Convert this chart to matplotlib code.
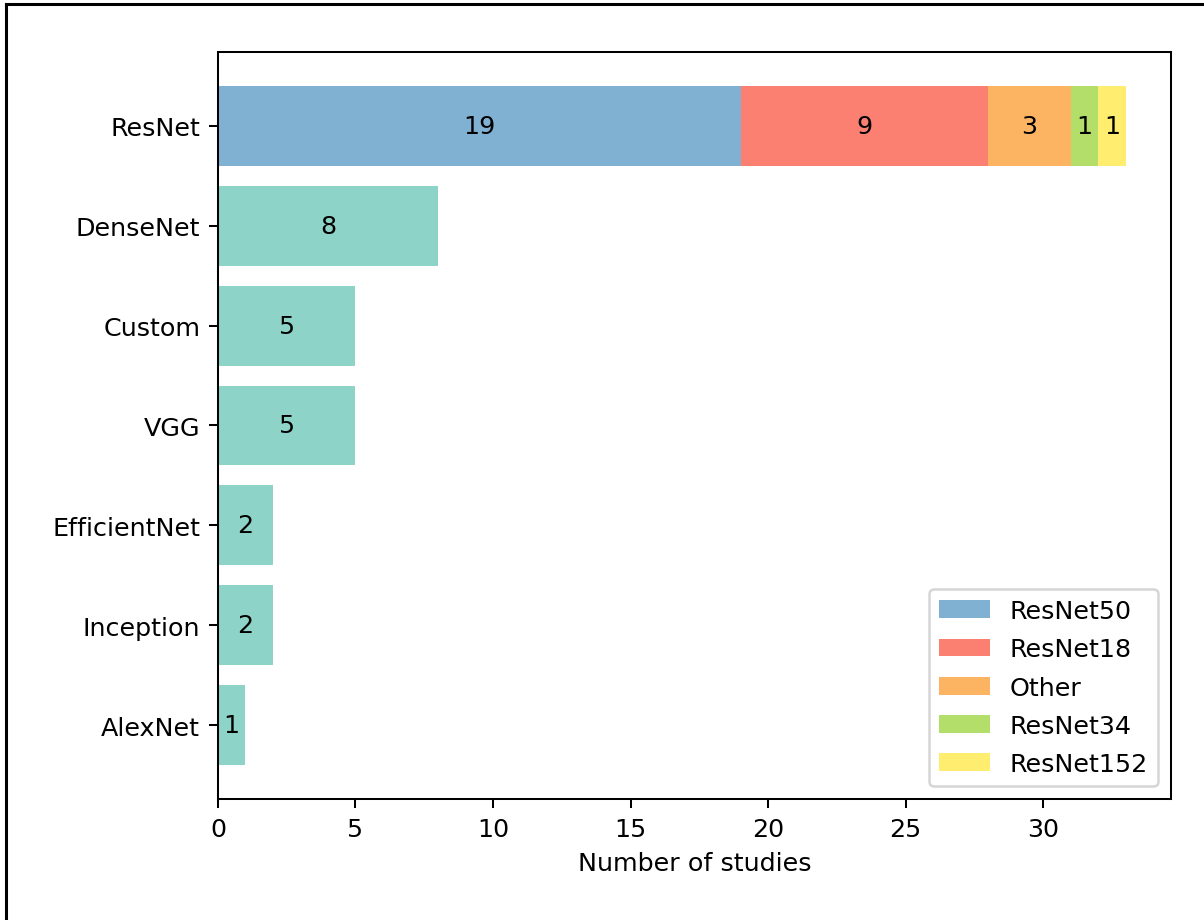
import matplotlib.pyplot as plt
from matplotlib.lines import Line2D

# data
models = ["ResNet", "DenseNet", "Custom", "VGG", "EfficientNet", "Inception", "AlexNet"]
counts = [33, 8, 5, 5, 2, 2, 1]

resnet_variants = ["ResNet50", "ResNet18", "Other", "ResNet34", "ResNet152"]
resnet_counts = [19, 9, 3, 1, 1]
variant_colors = ["#80b1d3", "#fb8072", "#fdb462", "#b3de69", "#ffed6f"]
base_color = "#8dd3c7"

DPI = 183
fig = plt.figure(figsize=(1204 / DPI, 921 / DPI), dpi=DPI)
ax = fig.add_axes([0.181, 0.1314, 0.7916, 0.8111])

# other models as plain bars
ypos = list(range(len(models)))[::-1]
for name, c, y in zip(models[1:], counts[1:], ypos[1:]):
    bars = ax.barh(y, c, color=base_color)
    ax.bar_label(bars, labels=[str(c)], label_type="center")

# stacked ResNet bar
left = 0
for name, c, col in zip(resnet_variants, resnet_counts, variant_colors):
    bars = ax.barh(ypos[0], c, left=left, color=col, label=name)
    ax.bar_label(bars, labels=[str(c)], label_type="center")
    left += c

ax.set_yticks(ypos)
ax.set_yticklabels(models)
ax.set_xlabel("Number of studies")
ax.legend(loc="lower right", labelspacing=0.56)

# border from the screenshot (top and left)
fig.add_artist(Line2D([6 / 1204, 6 / 1204], [0, 1 - 5 / 921], color="black", lw=1.2,
                      transform=fig.transFigure))
fig.add_artist(Line2D([6 / 1204, 1], [1 - 5 / 921, 1 - 5 / 921], color="black", lw=1.2,
                      transform=fig.transFigure))

fig.savefig("out.png", dpi=DPI)
